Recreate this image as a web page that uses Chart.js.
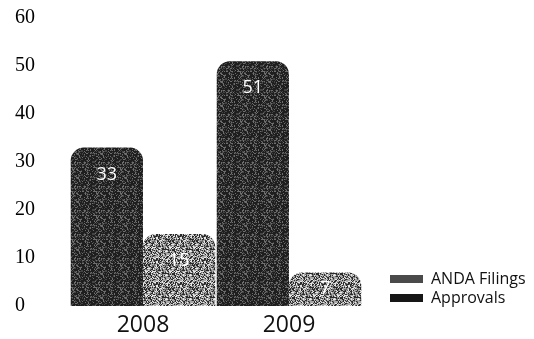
<!DOCTYPE html>
<html>
<head>
<meta charset="utf-8">
<script src="https://cdn.jsdelivr.net/npm/chart.js@4.4.1/dist/chart.umd.min.js"></script>
<style>
  html, body { margin: 0; padding: 0; background: #fff; }
  #wrap { width: 534px; height: 339px; position: relative; }
</style>
</head>
<body>
<div id="wrap"><canvas id="chart"></canvas></div>
<script>
// Yearly ANDA activity
const years = ['2008', '2009'];
const andaFilings = [33, 51];
const approvals = [15, 7];
const yTickValues = [0, 10, 20, 30, 40, 50, 60];

// Small tiled speckle textures for the bar fills (deterministic hash, no randomness)
function speckle(base, specks, size) {
  const c = document.createElement('canvas');
  c.width = size; c.height = size;
  const g = c.getContext('2d');
  g.fillStyle = base;
  g.fillRect(0, 0, size, size);
  for (let y = 0; y < size; y++) {
    for (let x = 0; x < size; x++) {
      let h = (x * 374761393 + y * 668265263) | 0;
      h = Math.imul(h ^ (h >>> 13), 1274126177);
      h = ((h ^ (h >>> 16)) >>> 0) % 1000;
      let acc = 0;
      for (const s of specks) {
        acc += s.share * 1000;
        if (h < acc) { g.fillStyle = s.color; g.fillRect(x, y, 1, 1); break; }
      }
    }
  }
  return g.createPattern(c, 'repeat');
}

const filingsFill = speckle('#1e1e1e', [{ color: '#6e6e6e', share: 0.2 }, { color: '#444444', share: 0.2 }], 24);
const approvalsFill = speckle('#a8a8a8', [{ color: '#2a2a2a', share: 0.3 }, { color: '#e8e8e8', share: 0.2 }, { color: '#6a6a6a', share: 0.15 }], 24);
const legendSwatches = ['#4a4a4a', '#161616'];

// White value labels near the top of each bar
const valueLabels = {
  id: 'valueLabels',
  afterDatasetsDraw(chart) {
    const ctx = chart.ctx;
    ctx.save();
    ctx.fillStyle = '#ffffff';
    ctx.font = '18px "Open Sans"';
    ctx.textAlign = 'center';
    ctx.textBaseline = 'middle';
    chart.data.datasets.forEach((ds, i) => {
      chart.getDatasetMeta(i).data.forEach((bar, j) => {
        const h = bar.base - bar.y;
        const dy = Math.min(27, h / 2);
        ctx.fillText(String(ds.data[j]), bar.x, bar.y + dy);
      });
    });
    ctx.restore();
  }
};

// Fixed-width legend column on the right, items set in from the plot and lifted off the bottom edge
const LEGEND_WIDTH = 172;
const LEGEND_SHIFT = 25;
const LEGEND_LIFT = 30;
const legendGap = {
  id: 'legendGap',
  beforeInit(chart) {
    const legend = chart.legend;
    const fit = legend.fit;
    legend.fit = function () { fit.call(this); this.width = LEGEND_WIDTH; };
  },
  afterLayout(chart) {
    chart.legend.left += LEGEND_SHIFT;
    chart.legend.bottom -= LEGEND_LIFT;
  }
};

new Chart(document.getElementById('chart'), {
  type: 'bar',
  data: {
    labels: years,
    datasets: [
      {
        label: 'ANDA Filings',
        data: andaFilings,
        backgroundColor: filingsFill,
        borderWidth: 0,
        borderRadius: { topLeft: 13, topRight: 13 },
        borderSkipped: 'bottom'
      },
      {
        label: 'Approvals',
        data: approvals,
        backgroundColor: approvalsFill,
        borderWidth: 0,
        borderRadius: { topLeft: 13, topRight: 13 },
        borderSkipped: 'bottom'
      }
    ]
  },
  options: {
    responsive: true,
    maintainAspectRatio: false,
    animation: false,
    events: [],
    layout: { padding: { left: 15, top: 18, right: 0, bottom: 0 } },
    datasets: { bar: { barPercentage: 1, categoryPercentage: 0.99 } },
    scales: {
      x: {
        afterFit(scale) { scale.height = 33; },
        grid: { display: false, drawTicks: false },
        border: { display: false },
        ticks: { color: '#111', font: { family: 'Open Sans', size: 23 }, padding: 6 }
      },
      y: {
        min: 0,
        max: 60,
        afterBuildTicks(scale) { scale.ticks = yTickValues.map(v => ({ value: v })); },
        afterFit(scale) { scale.width = 55; },
        grid: { display: false, drawTicks: false },
        border: { display: false },
        ticks: {
          color: '#000',
          crossAlign: 'far',
          font: { family: 'Liberation Serif', size: 20 }
        }
      }
    },
    plugins: {
      tooltip: { enabled: false },
      legend: {
        position: 'right',
        align: 'end',
        labels: {
          boxWidth: 33,
          boxHeight: 8,
          padding: 3,
          color: '#111',
          font: { family: 'Open Sans', size: 16, lineHeight: 1 },
          generateLabels(chart) {
            return Chart.defaults.plugins.legend.labels.generateLabels(chart).map((item, i) => {
              item.fillStyle = legendSwatches[i];
              item.strokeStyle = legendSwatches[i];
              item.lineWidth = 0;
              return item;
            });
          }
        }
      }
    }
  },
  plugins: [valueLabels, legendGap]
});
</script>
</body>
</html>
